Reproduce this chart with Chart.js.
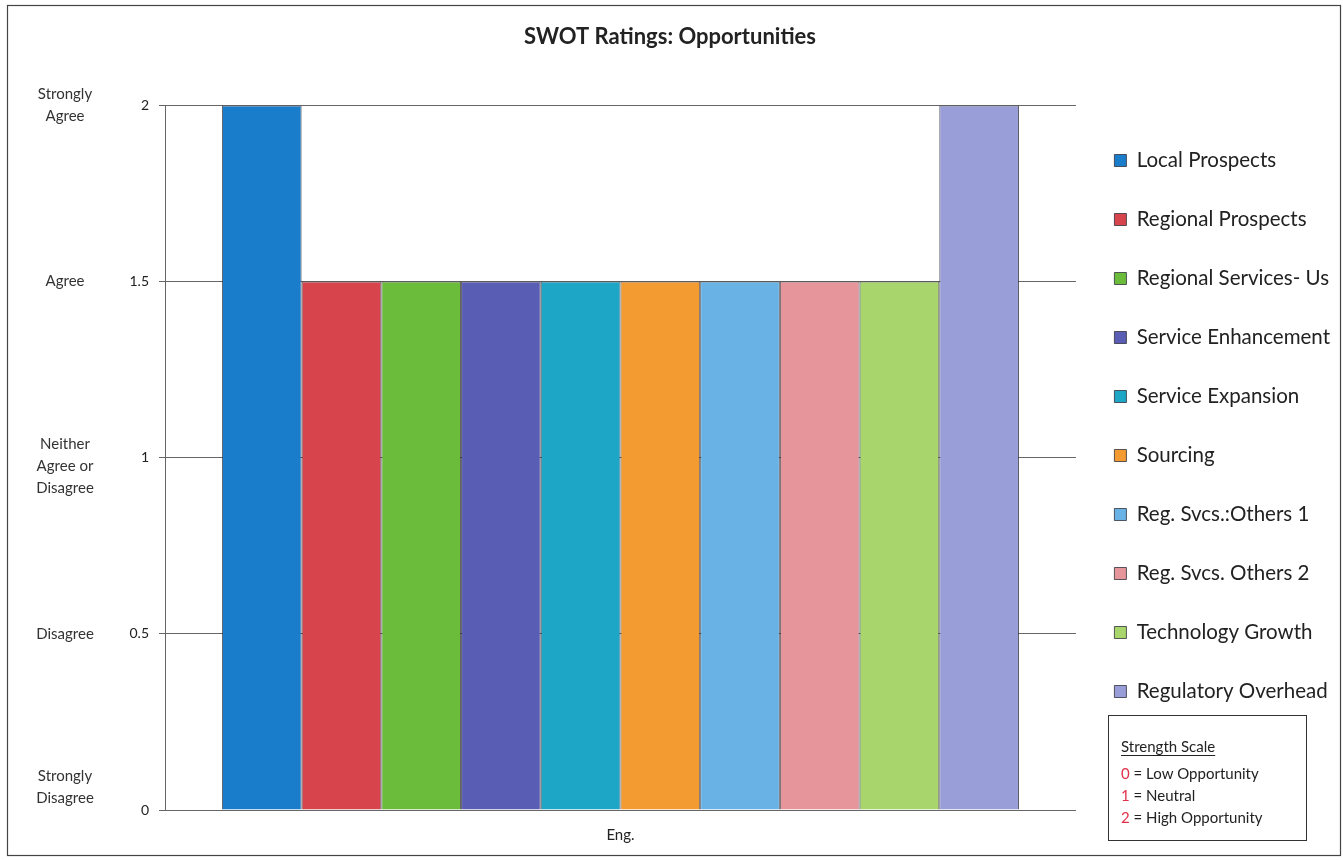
<!DOCTYPE html>
<html>
<head>
<meta charset="utf-8">
<script src="https://cdn.jsdelivr.net/npm/chart.js@4.4.1/dist/chart.umd.min.js"></script>
<style>
    body { margin: 0; background: #fff; }
    #wrap { width: 1343px; height: 860px; position: relative; }
</style>
</head>
<body>
<div id="wrap"><canvas id="swotChart"></canvas></div>
<script>
let categories = ['Eng.'];
let seriesNames = ['Local Prospects', 'Regional Prospects', 'Regional Services- Us', 'Service Enhancement',
    'Service Expansion', 'Sourcing', 'Reg. Svcs.:Others 1', 'Reg. Svcs. Others 2', 'Technology Growth', 'Regulatory Overhead'];
let seriesValues = [2, 1.5, 1.5, 1.5, 1.5, 1.5, 1.5, 1.5, 1.5, 2];
let seriesColors = ['#1a7dcc', '#d8444b', '#6cbc3c', '#5a5db4', '#1ea6c6', '#f39a30', '#68b2e6', '#e6959b', '#a8d66c', '#9a9ed8'];
let yTicks = [0, 0.5, 1, 1.5, 2];
let scaleWords = [['Strongly', 'Disagree'], ['Disagree'], ['Neither', 'Agree or', 'Disagree'], ['Agree'], ['Strongly', 'Agree']];

const FONT = 'Lato, "Open Sans", sans-serif';

// ================================================================== left side words + strength box + frame
const extrasPlugin = {
    id: 'extras',
    afterDraw(chart) {
        let ctx = chart.ctx;
        let yScale = chart.scales.y;
        ctx.save();

        // frame
        ctx.strokeStyle = '#444';
        ctx.lineWidth = 1.2;
        ctx.strokeRect(7.5, 5.5, 1333, 850);

        // rating words
        ctx.fillStyle = '#333';
        ctx.font = '15px ' + FONT;
        ctx.textAlign = 'center';
        ctx.textBaseline = 'middle';
        for (let i = 0; i < yTicks.length; i++) {
            let lines = scaleWords[i];
            let y = yScale.getPixelForValue(yTicks[i]);
            if (i == 0) y -= 23;
            if (i == 2) y += 8;
            let start = y - (lines.length - 1) * 11;
            for (let j = 0; j < lines.length; j++) {
                ctx.fillText(lines[j], 65, start + j * 22);
            }
        }

        // strength scale box
        let bx = 1108, by = 715, bw = 198, bh = 125;
        ctx.strokeStyle = '#333';
        ctx.lineWidth = 1;
        ctx.strokeRect(bx + 0.5, by + 0.5, bw, bh);
        ctx.textAlign = 'left';
        ctx.textBaseline = 'alphabetic';
        ctx.font = '15px ' + FONT;
        ctx.fillStyle = '#222';
        ctx.fillText('Strength Scale', 1121, 752);
        let w = ctx.measureText('Strength Scale').width;
        ctx.fillRect(1121, 755, w, 1);
        let rows = [['0', ' = Low Opportunity'], ['1', ' = Neutral'], ['2', ' = High Opportunity']];
        for (let i = 0; i < rows.length; i++) {
            let ry = 779 + i * 22;
            ctx.fillStyle = '#e0304a';
            ctx.fillText(rows[i][0], 1121, ry);
            let dw = ctx.measureText(rows[i][0]).width;
            ctx.fillStyle = '#222';
            ctx.fillText(rows[i][1], 1121 + dw, ry);
        }
        ctx.restore();
    }
};

let datasets = seriesNames.map((name, i) => ({
    label: name,
    data: [seriesValues[i]],
    backgroundColor: seriesColors[i],
    borderColor: 'rgba(50, 50, 60, 0.8)',
    borderWidth: 1,
    categoryPercentage: 0.875,
    barPercentage: 1
}));

new Chart(document.getElementById('swotChart'), {
    type: 'bar',
    data: { labels: categories, datasets: datasets },
    plugins: [extrasPlugin],
    options: {
        responsive: true,
        maintainAspectRatio: false,
        animation: false,
        layout: { padding: { left: 0, right: 3, top: 0, bottom: 8 } },
        plugins: {
            title: {
                display: true,
                text: 'SWOT Ratings: Opportunities',
                color: '#222',
                font: { family: FONT, size: 22, weight: 'bold' },
                padding: { top: 24, bottom: 55 }
            },
            legend: {
                position: 'right',
                align: 'center',
                labels: {
                    color: '#222',
                    font: { family: FONT, size: 20.5 },
                    boxWidth: 12,
                    boxHeight: 12,
                    padding: 38.5
                }
            },
            tooltip: { enabled: false }
        },
        scales: {
            x: {
                grid: { display: false },
                border: { display: false },
                ticks: { color: '#222', font: { family: FONT, size: 15 }, padding: 8 }
            },
            y: {
                min: 0,
                max: 2,
                afterFit(scale) { scale.width = 165; },
                afterBuildTicks(scale) { scale.ticks = yTicks.map(v => ({ value: v })); },
                grid: { color: '#666', lineWidth: 1, tickLength: 6 },
                border: { display: true, color: '#666' },
                ticks: {
                    color: '#222',
                    font: { family: FONT, size: 14 },
                    padding: 10,
                    callback: (v) => String(v)
                }
            }
        }
    }
});
</script>
</body>
</html>
